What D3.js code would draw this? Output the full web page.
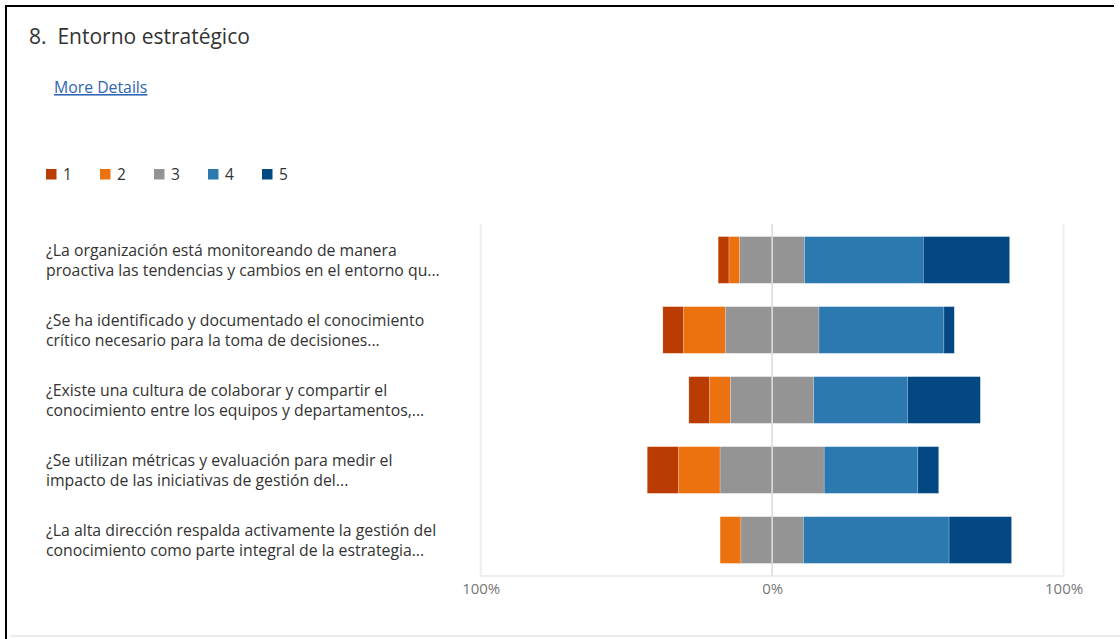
<!DOCTYPE html>
<html>
<head>
<meta charset="utf-8">
<script src="https://cdn.jsdelivr.net/npm/d3@7"></script>
<style>
  html, body { margin: 0; padding: 0; background: #fff; }
  svg { display: block; font-family: "Open Sans", "Noto Sans", sans-serif; }
</style>
</head>
<body>
<svg id="chart" width="1120" height="639"></svg>
<script>
// Rating scale shown in the legend
const ratings = ["1", "2", "3", "4", "5"];
const ratingColors = ["#bb3c02", "#ec7210", "#949494", "#2c79b0", "#034883"];

// Question labels, already wrapped onto two lines
const questions = [
  ["¿La organización está monitoreando de manera", "proactiva las tendencias y cambios en el entorno qu..."],
  ["¿Se ha identificado y documentado el conocimiento", "crítico necesario para la toma de decisiones..."],
  ["¿Existe una cultura de colaborar y compartir el", "conocimiento entre los equipos y departamentos,..."],
  ["¿Se utilizan métricas y evaluación para medir el", "impacto de las iniciativas de gestión del..."],
  ["¿La alta dirección respalda activamente la gestión del", "conocimiento como parte integral de la estrategia..."]
];

// Number of responses per rating (1..5) for each question
const counts1 = [1, 1, 6, 11, 8];
const counts2 = [2, 4, 9, 12, 1];
const counts3 = [2, 2, 8, 9, 7];
const counts4 = [3, 4, 10, 9, 2];
const counts5 = [0, 2, 6, 14, 6];
const responseCounts = [counts1, counts2, counts3, counts4, counts5];

const tickValues = [-100, 0, 100];
const tickLabels = ["100%", "0%", "100%"];

const svg = d3.select("#chart");

// Page frame
svg.append("rect").attr("width", 1120).attr("height", 639).attr("fill", "#fff");
svg.append("line").attr("x1", 6).attr("x2", 6).attr("y1", 5).attr("y2", 639)
  .attr("stroke", "#000").attr("stroke-width", 2);
svg.append("line").attr("x1", 5).attr("x2", 1114).attr("y1", 6).attr("y2", 6)
  .attr("stroke", "#000").attr("stroke-width", 2);
svg.append("line").attr("x1", 10).attr("x2", 1120).attr("y1", 636).attr("y2", 636)
  .attr("stroke", "#ececec").attr("stroke-width", 2);

// Heading
svg.append("text").attr("x", 29).attr("y", 44)
  .attr("font-size", 21).attr("fill", "#333")
  .text("8.\u00a0 Entorno estratégico");

svg.append("text").attr("x", 54).attr("y", 93)
  .attr("font-size", 15.8).attr("fill", "#2f66b3")
  .attr("text-decoration", "underline")
  .text("More Details");

// Legend
const legend = svg.append("g").attr("transform", "translate(46,169)");
const legendItem = legend.selectAll("g").data(ratings).join("g")
  .attr("transform", (d, i) => `translate(${i * 54},0)`);
legendItem.append("rect").attr("width", 10.5).attr("height", 10.5)
  .attr("fill", (d, i) => ratingColors[i]);
legendItem.append("text").attr("x", 17).attr("y", 11)
  .attr("font-size", 15.5).attr("fill", "#333").text(d => d);

// Scales
const x = d3.scaleLinear().domain([-100, 100]).range([480.7, 1063.6]);
const y = d3.scaleBand().domain(d3.range(questions.length))
  .range([224, 576]).paddingInner(0.333).paddingOuter(0.18);

// Plot frame (left, right, bottom)
const frame = svg.append("g").attr("fill", "none").attr("stroke", "#eeeeee").attr("stroke-width", 2);
frame.append("path").attr("d", `M${x(-100)},224V576H${x(100)}V224`);

// Diverging stacked bars: rating 3 straddles the zero line
const rows = responseCounts.map((c, qi) => {
  const total = d3.sum(c);
  const pct = c.map(v => v / total * 100);
  let start = -(pct[0] + pct[1] + pct[2] / 2);
  return pct.map((p, ri) => {
    const seg = { q: qi, r: ri, x0: start, x1: start + p };
    start += p;
    return seg;
  }).filter(s => s.x1 > s.x0);
});

svg.append("g").selectAll("g").data(rows).join("g")
  .selectAll("rect").data(d => d).join("rect")
  .attr("x", d => x(d.x0))
  .attr("width", d => x(d.x1) - x(d.x0))
  .attr("y", d => y(d.q))
  .attr("height", y.bandwidth())
  .attr("fill", d => ratingColors[d.r])
  .attr("stroke", "rgba(255,255,255,0.35)")
  .attr("stroke-width", 0.6);

// Zero line on top of the bars
svg.append("line").attr("x1", x(0)).attr("x2", x(0)).attr("y1", 224).attr("y2", 576)
  .attr("stroke", "#dcdcdc").attr("stroke-width", 1.6);

// Axis labels
const axis = d3.axisBottom(x).tickValues(tickValues)
  .tickFormat((d, i) => tickLabels[i]).tickSize(0).tickPadding(0);
const axisG = svg.append("g").attr("transform", "translate(0,583)").call(axis);
axisG.select(".domain").remove();
axisG.selectAll("text").attr("font-size", 15).attr("fill", "#777")
  .attr("font-family", "\"Open Sans\", sans-serif").attr("dy", "0.71em");

// Question labels
const labels = svg.append("g").selectAll("text").data(questions).join("text")
  .attr("font-size", 15.8).attr("fill", "#333");
labels.each(function (lines, i) {
  const cy = y(i) + y.bandwidth() / 2;
  d3.select(this).selectAll("tspan").data(lines).join("tspan")
    .attr("x", 46)
    .attr("y", (d, j) => cy - 4 + j * 20)
    .text(d => d);
});
</script>
</body>
</html>
